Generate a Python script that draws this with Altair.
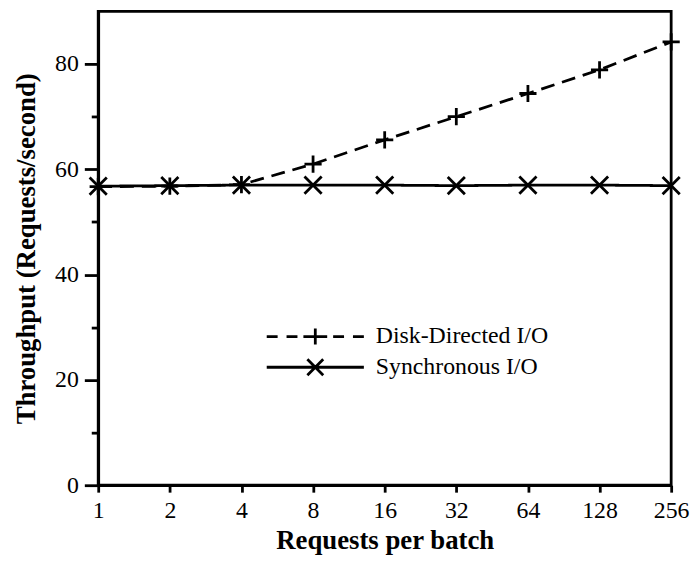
import altair as alt
import pandas as pd

requests = [1, 2, 4, 8, 16, 32, 64, 128, 256]
disk_directed = [56.7, 56.8, 57.1, 61.0, 65.6, 70.0, 74.4, 78.9, 84.2]
synchronous = [56.8, 56.9, 57.0, 57.0, 57.0, 56.9, 57.0, 57.0, 56.9]
series_names = ["Disk-Directed I/O", "Synchronous I/O"]
y_ticks = [0, 10, 20, 30, 40, 50, 60, 70, 80]

rows = []
for name, vals in zip(series_names, [disk_directed, synchronous]):
    for n, v in zip(requests, vals):
        rows.append({"requests": n, "throughput": v, "series": name, "legend": name})
df = pd.DataFrame(rows)

FONT = "Liberation Serif"

plus_path = "M-1,0H1M0,-1V1"
cross_path = "M-1,-1L1,1M-1,1L1,-1"
leg_plus = ("M-4.9,0H-3.8M-2.9,0H-1.8M-1.2,0H1.2M0,-0.8V0.8"
            "M1.8,0H2.9M3.8,0H4.9")
leg_cross = "M-4.9,0H4.9M-0.8,-0.8L0.8,0.8M-0.8,0.8L0.8,-0.8"

xs = alt.Scale(type="log", base=2, domain=[1, 256], nice=False)
ys = alt.Scale(domain=[0, 90], nice=False, zero=True)

x_enc = alt.X("requests:Q", scale=xs,
              axis=alt.Axis(values=requests, format="d", title="Requests per batch",
                            tickSize=7, labelPadding=7, titlePadding=5,
                            labelFlush=False))
y_enc = alt.Y("throughput:Q", scale=ys,
              axis=alt.Axis(values=y_ticks, title="Throughput (Requests/second)",
                            labelExpr="datum.value % 20 == 0 ? datum.label : ''",
                            tickSize={"condition": {"test": "datum.value % 20 != 0",
                                                    "value": 7}, "value": 14},
                            labelPadding=6, titlePadding=14))

lines = alt.Chart(df).mark_line(color="black", strokeWidth=2.8).encode(
    x=x_enc, y=y_enc,
    strokeDash=alt.StrokeDash("series:N",
                              scale=alt.Scale(domain=series_names, range=[[14, 8], [1, 0]]),
                              legend=None),
    detail="series:N",
)

points = alt.Chart(df).mark_point(color="black", filled=False, strokeWidth=2.8,
                                   size=300, opacity=1).encode(
    x=alt.X("requests:Q", scale=xs),
    y=alt.Y("throughput:Q", scale=ys),
    shape=alt.Shape("series:N",
                    scale=alt.Scale(domain=series_names, range=[plus_path, cross_path]),
                    legend=None),
)

legend_layer = alt.Chart(df).mark_point(color="black", filled=False, opacity=0).encode(
    x=alt.X("requests:Q", scale=xs),
    y=alt.Y("throughput:Q", scale=ys),
    shape=alt.Shape("legend:N",
                    scale=alt.Scale(domain=series_names, range=[leg_plus, leg_cross]),
                    legend=alt.Legend(orient="none", legendX=207, legendY=316, title=None,
                                      padding=0, symbolSize=400, symbolStrokeWidth=2.8,
                                      symbolStrokeColor="black",
                                      symbolFillColor="transparent",
                                      symbolOpacity=1, labelFont=FONT,
                                      labelFontSize=24, labelColor="black",
                                      labelLimit=400,
                                      labelOffset=49, rowPadding=3)),
)

chart = alt.layer(lines, points, legend_layer).resolve_scale(
    shape="independent"
).properties(
    width=578, height=478,
    autosize=alt.AutoSizeParams(type="none"),
    padding={"left": 91, "top": 1, "right": 19, "bottom": 69},
).configure_view(stroke="black", strokeWidth=2.8).configure_axis(
    grid=False, domainColor="black", domainWidth=2.8, tickColor="black", tickWidth=2.8,
    labelFont=FONT, labelFontSize=24, labelColor="black",
    titleFont=FONT, titleFontSize=27, titleFontWeight="bold", titleColor="black",
)

chart.save("out.html", embed_options={"renderer": "svg", "actions": False})
